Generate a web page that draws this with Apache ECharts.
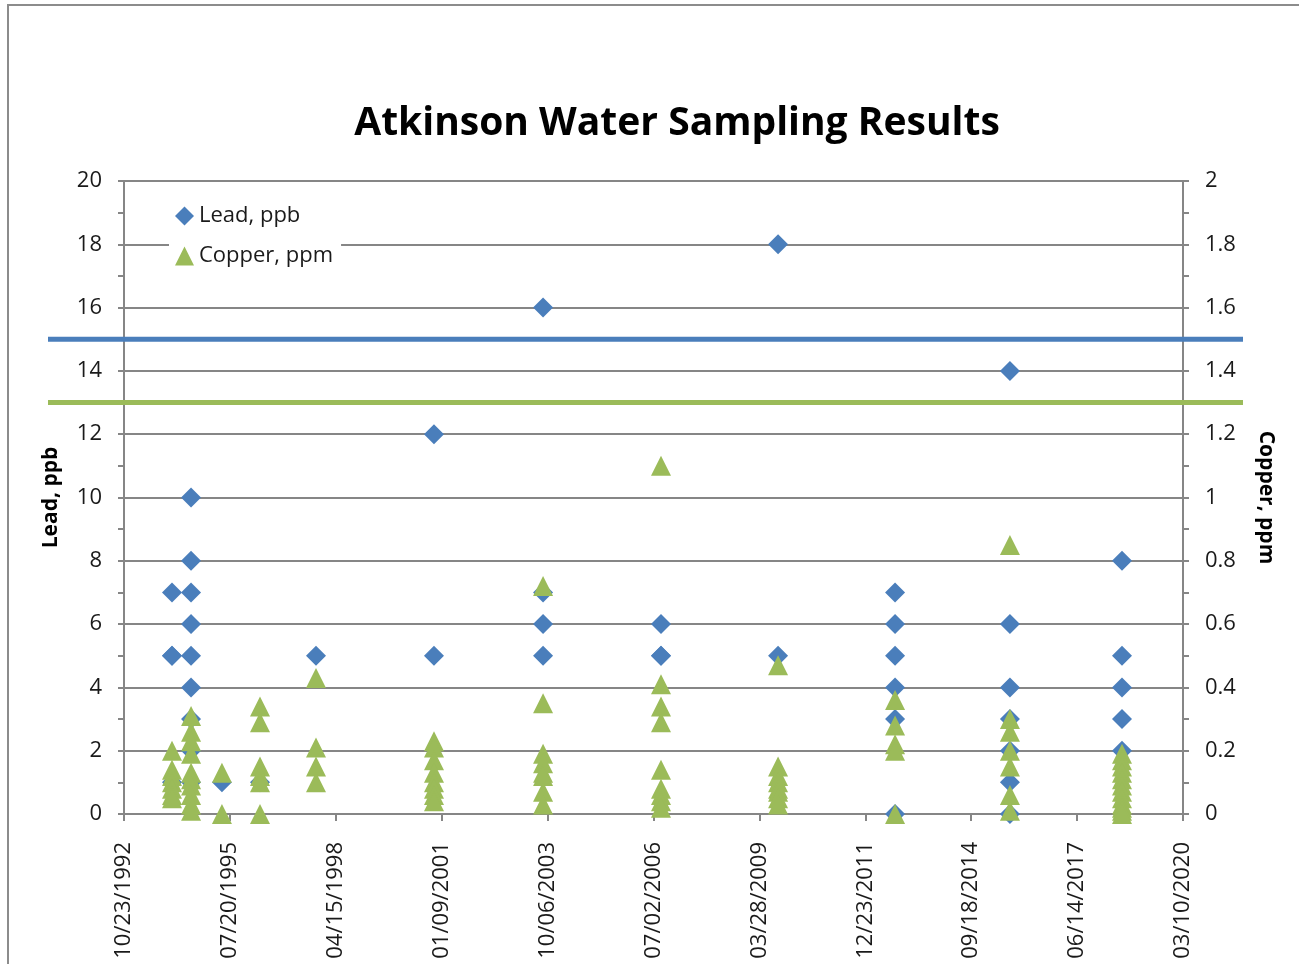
<!DOCTYPE html>
<html>
<head>
<meta charset="utf-8">
<script src="https://cdn.jsdelivr.net/npm/echarts@6/dist/echarts.min.js"></script>
<style>
html,body{margin:0;padding:0;background:#fff;}
#chart{width:1299px;height:964px;}
</style>
</head>
<body>
<div id="chart"></div>
<script>
// ---- data ----
const samplingDates = ['1994-01-19','1994-07-18','1995-05-06','1996-04-29','1997-10-10','2000-10-28',
  '2003-08-24','2006-09-11','2009-09-20','2012-09-29','2015-09-19','2018-08-12'];
const leadPpb = [
  [7,5,5,1],
  [10,8,7,6,5,4,3,2,1],
  [1],
  [1],
  [5],
  [12,5],
  [16,7,6,5],
  [6,5,5],
  [18,5],
  [7,6,5,4,3,0],
  [14,6,4,3,2,1,0],
  [8,5,4,3,2]
];
const copperPpm = [
  [0.20,0.14,0.12,0.10,0.08,0.06,0.05],
  [0.31,0.26,0.23,0.19,0.13,0.11,0.09,0.06,0.03,0.01],
  [0.13,0.00],
  [0.34,0.29,0.15,0.12,0.10,0.00],
  [0.43,0.21,0.15,0.10],
  [0.23,0.21,0.17,0.13,0.10,0.08,0.06,0.04],
  [0.72,0.35,0.19,0.16,0.13,0.12,0.07,0.03],
  [1.10,0.41,0.34,0.29,0.14,0.08,0.06,0.04,0.02],
  [0.47,0.15,0.12,0.10,0.08,0.07,0.05,0.03],
  [0.36,0.28,0.22,0.20,0.00],
  [0.85,0.30,0.26,0.20,0.15,0.06,0.01],
  [0.19,0.17,0.15,0.13,0.11,0.09,0.07,0.05,0.03,0.02,0.01,0.00]
];
const leadActionLevel = 15;     // ppb
const copperActionLevel = 1.3;  // ppm
const xTickStart = '1992-10-23';
const xTickEnd = '2020-03-10';
const xTickDays = 1000;

// ---- helpers ----
function toSerial(s){ const p=s.split('-').map(Number); return Date.UTC(p[0],p[1]-1,p[2])/86400000 + 25569; }
function serialLabel(v){
  const d=new Date((v-25569)*86400000);
  const mm=String(d.getUTCMonth()+1).padStart(2,'0'), dd=String(d.getUTCDate()).padStart(2,'0');
  return mm+'/'+dd+'/'+d.getUTCFullYear();
}
const leadData=[], copperData=[];
samplingDates.forEach((d,i)=>{
  const s=toSerial(d);
  leadPpb[i].forEach(v=>leadData.push([s,v]));
  copperPpm[i].forEach(v=>copperData.push([s,v]));
});

const BLUE='#4A7EBB', GREEN='#9BBB59', AX='#868686', TXT='#1a1a1a';
const FONT='"Open Sans", "Noto Sans", sans-serif';
const chart=echarts.init(document.getElementById('chart'),null,{renderer:'canvas'});
const gridPos={top:181,bottom:150};
chart.setOption({
  animation:false,
  backgroundColor:'#fff',
  textStyle:{fontFamily:FONT},
  title:{text:'Atkinson Water Sampling Results',left:672,textAlign:'center',top:99,
    textStyle:{fontSize:39,fontWeight:'bold',color:'#000',fontFamily:FONT}},
  graphic:[{type:'rect',shape:{x:8,y:5,width:1400,height:1000},style:{fill:'none',stroke:'#8c8c8c',lineWidth:2},silent:true}],
  legend:{orient:'vertical',left:169,top:201,itemGap:18,itemWidth:19,itemHeight:19,
    backgroundColor:'#fff',padding:[4,8,4,6],
    textStyle:{fontSize:22,color:TXT,fontFamily:FONT},
    data:[{name:'Lead, ppb',icon:'diamond'},{name:'Copper, ppm',icon:'triangle'}]},
  grid:[
    {left:124,right:116,top:gridPos.top,bottom:gridPos.bottom,containLabel:false},
    {left:48,right:56,top:gridPos.top,bottom:gridPos.bottom,containLabel:false}
  ],
  xAxis:[
    {type:'value',gridIndex:0,min:toSerial(xTickStart),max:toSerial(xTickEnd),interval:xTickDays,
      axisLine:{show:true,onZero:false,lineStyle:{color:AX,width:2}},
      axisTick:{show:true,length:7,lineStyle:{color:AX,width:2}},
      splitLine:{show:false},
      axisLabel:{rotate:90,margin:28,fontSize:22,color:TXT,fontFamily:FONT,formatter:serialLabel,showMinLabel:true,showMaxLabel:true}},
    {type:'value',gridIndex:1,min:0,max:1,show:false}
  ],
  yAxis:[
    {type:'value',gridIndex:0,min:0,max:20,interval:2,position:'left',
      name:'Lead, ppb',nameLocation:'middle',nameRotate:90,nameGap:62,
      nameTextStyle:{fontSize:21,fontWeight:'bold',color:'#000',fontFamily:FONT},
      axisLine:{show:true,lineStyle:{color:AX,width:2}},
      axisTick:{show:true,length:6,lineStyle:{color:AX,width:2}},
      minorTick:{show:true,splitNumber:2,length:6,lineStyle:{color:AX,width:2}},
      splitLine:{show:true,lineStyle:{color:AX,width:2}},
      axisLabel:{margin:22,fontSize:22,color:TXT,fontFamily:FONT}},
    {type:'value',gridIndex:0,min:0,max:2,interval:0.2,position:'right',
      name:'Copper, ppm',nameLocation:'middle',nameRotate:-90,nameGap:72,
      nameTextStyle:{fontSize:21,fontWeight:'bold',color:'#000',fontFamily:FONT},
      axisLine:{show:true,lineStyle:{color:AX,width:2}},
      axisTick:{show:true,length:6,lineStyle:{color:AX,width:2}},
      minorTick:{show:true,splitNumber:2,length:6,lineStyle:{color:AX,width:2}},
      splitLine:{show:false},
      axisLabel:{margin:22,fontSize:22,color:TXT,fontFamily:FONT,formatter:v=>String(+v.toFixed(1))}},
    {type:'value',gridIndex:1,min:0,max:20,show:false},
    {type:'value',gridIndex:1,min:0,max:2,show:false}
  ],
  series:[
    {name:'Lead, ppb',type:'scatter',xAxisIndex:0,yAxisIndex:0,symbol:'diamond',symbolSize:[20,20],
      itemStyle:{color:BLUE,opacity:1},data:leadData,z:3},
    {name:'Copper, ppm',type:'scatter',xAxisIndex:0,yAxisIndex:1,symbol:'triangle',symbolSize:[20,20],
      itemStyle:{color:GREEN,opacity:1},data:copperData,z:4},
    {name:'Lead action level',type:'line',xAxisIndex:1,yAxisIndex:2,symbol:'none',silent:true,
      lineStyle:{color:BLUE,width:5},data:[[0,leadActionLevel],[1,leadActionLevel]],z:5},
    {name:'Copper action level',type:'line',xAxisIndex:1,yAxisIndex:3,symbol:'none',silent:true,
      lineStyle:{color:GREEN,width:5},data:[[0,copperActionLevel],[1,copperActionLevel]],z:5}
  ]
});
</script>
</body>
</html>
